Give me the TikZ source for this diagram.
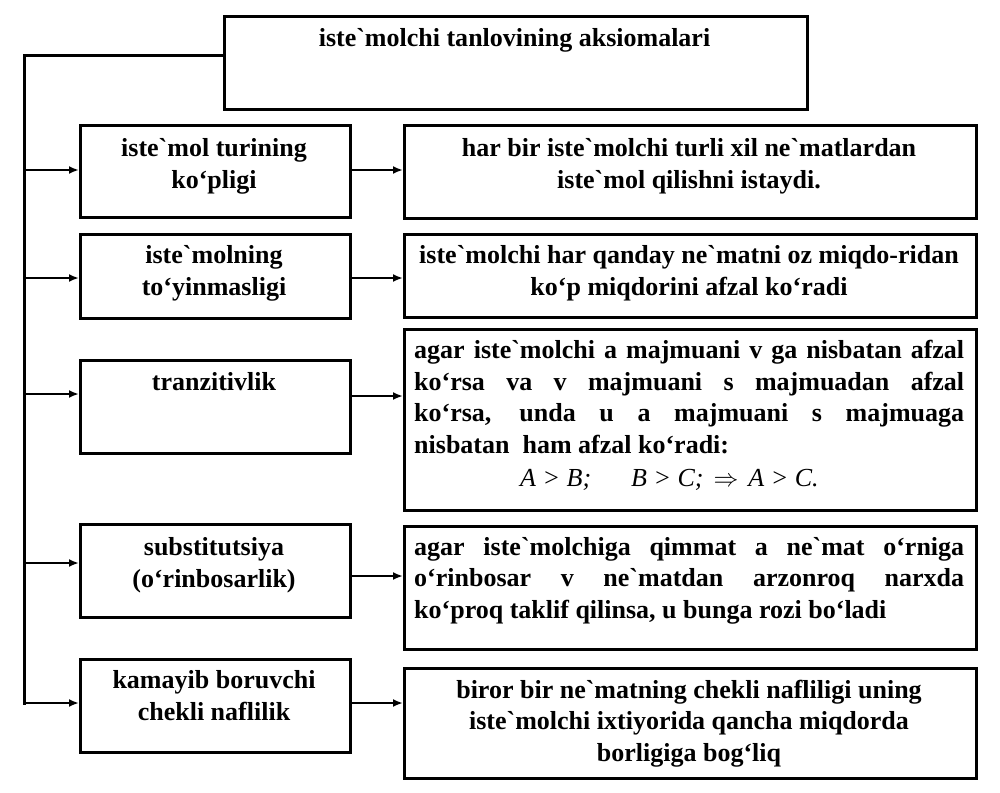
\documentclass[tikz,border=0pt]{standalone}
\usepackage{fontspec}
\setmainfont{Liberation Serif}[Ligatures=TeXOff]
\usetikzlibrary{arrows.meta}
\begin{document}
\begin{tikzpicture}[x=1pt,y=-1pt,
  box/.style={draw, line width=3pt, inner sep=0pt, anchor=north west},
  conn/.style={line width=3pt},
  arr/.style={line width=2.8pt, -{Latex[length=10pt,width=8pt]}},
  txt/.style={font=\bfseries\fontsize{26}{31.5}\selectfont, align=center, inner sep=0pt, anchor=base},
  jtxt/.style={font=\bfseries\fontsize{26}{31.5}\selectfont, align=left, inner sep=0pt, anchor=base west},
  ftxt/.style={font=\itshape\fontsize{26}{31.5}\selectfont, inner sep=0pt, anchor=base west}
]
\useasboundingbox[fill=white] (0,0) rectangle (1000,792);
% boxes
\node[box, minimum width=583pt, minimum height=93pt] (top) at (223,15) {};
\node[box, minimum width=270pt, minimum height=92pt] (l1) at (79,124) {};
\node[box, minimum width=270pt, minimum height=84pt] (l2) at (79,233) {};
\node[box, minimum width=270pt, minimum height=93pt] (l3) at (79,359) {};
\node[box, minimum width=270pt, minimum height=93pt] (l4) at (79,523) {};
\node[box, minimum width=270pt, minimum height=93pt] (l5) at (79,658) {};
\node[box, minimum width=572pt, minimum height=93pt] (r1) at (403,124) {};
\node[box, minimum width=572pt, minimum height=83pt] (r2) at (403,233) {};
\node[box, minimum width=572pt, minimum height=181pt] (r3) at (403,328) {};
\node[box, minimum width=572pt, minimum height=123pt] (r4) at (403,525) {};
\node[box, minimum width=572pt, minimum height=110pt] (r5) at (403,667) {};
% texts (anchor base = baseline of last line)
\node[txt] (ttop) at (514.5,47) {iste`molchi tanlovining aksiomalari};
\node[txt] (tl1) at (214,188) {iste`mol turining\\ko‘pligi};
\node[txt] (tl2) at (214,295) {iste`molning\\to‘yinmasligi};
\node[txt] (tl3) at (214,390) {tranzitivlik};
\node[txt] (tl4) at (214,587) {substitutsiya\\(o‘rinbosarlik)};
\node[txt] (tl5) at (214,720) {kamayib boruvchi\\chekli naflilik};
\node[txt] (tr1) at (689,188) {har bir iste`molchi turli xil ne`matlardan\\iste`mol qilishni istaydi.};
\node[txt] (tr2) at (689,295) {iste`molchi har qanday ne`matni oz miqdo-ridan\\ko‘p miqdorini afzal ko‘radi};
\node[jtxt] (tr3) at (414,453) {\makebox[550pt][s]{agar iste`molchi a majmuani v ga nisbatan afzal}\\
\makebox[550pt][s]{ko‘rsa va v majmuani s majmuadan afzal}\\
\makebox[550pt][s]{ko‘rsa, unda u a majmuani s majmuaga}\\
nisbatan\ \ ham afzal ko‘radi:};
\node[ftxt] (fr3) at (520,486) {A > B;\hspace{40pt}B > C;\hspace{10pt}$\Rightarrow$\hspace{10pt}A > C.};
\node[jtxt] (tr4) at (414,618) {\makebox[550pt][s]{agar iste`molchiga qimmat a ne`mat o‘rniga}\\
\makebox[550pt][s]{o‘rinbosar v ne`matdan arzonroq narxda}\\
ko‘proq taklif qilinsa, u bunga rozi bo‘ladi};
\node[txt] (tr5) at (689,761) {biror bir ne`matning chekli nafliligi uning\\iste`molchi ixtiyorida qancha miqdorda\\borligiga bog‘liq};
% trunk
\coordinate (k0) at (24,56);
\coordinate (k1) at (24,170);
\coordinate (k2) at (24,278);
\coordinate (k3) at (24,394);
\coordinate (k4) at (24,563);
\coordinate (k5) at (24,703);
\draw[conn, line cap=rect] (top.north west |- k0) -- (k0) -- (k5);
\draw[arr] (k1) -- (k1 -| l1.west);
\draw[arr] (k2) -- (k2 -| l2.west);
\draw[arr] (k3) -- (k3 -| l3.west);
\draw[arr] (k4) -- (k4 -| l4.west);
\draw[arr] (k5) -- (k5 -| l5.west);
% left to right
\coordinate (m1) at (0,170);
\coordinate (m2) at (0,278);
\coordinate (m3) at (0,396);
\coordinate (m4) at (0,576);
\coordinate (m5) at (0,703);
\draw[arr] (m1 -| l1.east) -- (m1 -| r1.west);
\draw[arr] (m2 -| l2.east) -- (m2 -| r2.west);
\draw[arr] (m3 -| l3.east) -- (m3 -| r3.west);
\draw[arr] (m4 -| l4.east) -- (m4 -| r4.west);
\draw[arr] (m5 -| l5.east) -- (m5 -| r5.west);
\end{tikzpicture}
\end{document}
